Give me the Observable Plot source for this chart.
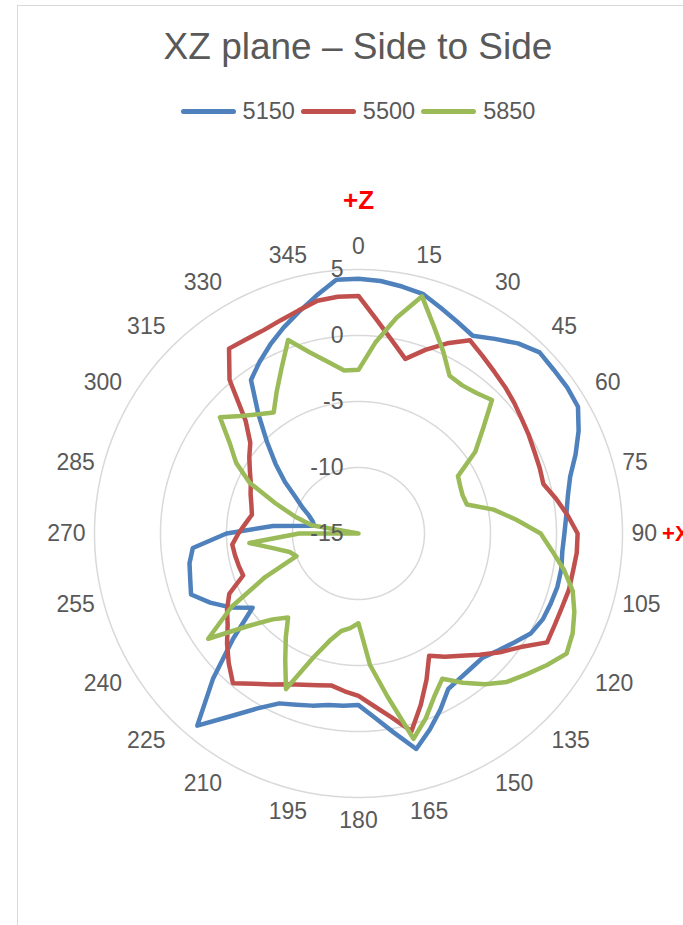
<!DOCTYPE html>
<html><head><meta charset="utf-8">
<script src="https://cdn.jsdelivr.net/npm/d3@7"></script>
<script src="https://cdn.jsdelivr.net/npm/@observablehq/plot@0.6"></script>
<style>
html,body{margin:0;padding:0;background:#fff}
body{width:683px;height:925px;overflow:hidden;position:relative;font-family:"Liberation Sans",Arial,sans-serif}
#frame{position:absolute;left:17px;top:5px;width:720px;height:960px;border-left:1.5px solid #d9d9d9;border-top:1.5px solid #d9d9d9;box-sizing:border-box}
#title{position:absolute;left:0;top:26px;width:716px;text-align:center;font-size:37px;line-height:42px;color:#595959}
#legend{position:absolute;left:0;top:98px;width:716px;display:flex;justify-content:center;align-items:center;font-size:23.5px;line-height:26px;color:#595959}
.item{display:flex;align-items:center;margin:0 3px}
.sw{display:inline-block;width:55px;height:5px;border-radius:3px;margin-right:7px}
#chart{position:absolute;left:0;top:150px}
#chart svg{overflow:visible}
</style></head>
<body>
<div id="frame"></div>
<div id="title">XZ plane – Side to Side</div>
<div id="legend"></div>
<div id="chart"></div>
<script>
// categories (degrees)
const angles = [0,5,10,15,20,25,30,35,40,45,50,55,60,65,70,75,80,85,90,95,100,105,110,115,120,125,130,135,140,145,150,155,160,165,170,175,180,185,190,195,200,205,210,215,220,225,230,235,240,245,250,255,260,265,270,275,280,285,290,295,300,305,310,315,320,325,330,335,340,345,350,355];
// series values (dB)
const s5150 = [4.3,4.2,4.0,3.8,3.2,2.7,2.3,3.0,3.8,4.4,4.3,4.3,4.2,3.4,2.5,1.6,1.1,0.8,0.6,0.5,0.6,0.6,0.5,0.4,0.1,-0.6,-1.2,-1.7,-1.7,-1.6,-1.4,-0.3,0.8,1.9,0.3,-1.0,-2.0,-1.9,-1.8,-1.5,-1.2,-0.8,0.3,1.9,4.0,0.6,-2.6,-5.2,-3.8,-2.6,-1.5,-1.8,-2.0,-2.4,-5.0,-8.5,-11.6,-11.4,-11.0,-10.3,-9.5,-8.2,-6.8,-5.2,-3.2,-0.8,0.0,0.8,1.6,2.4,3.3,4.3];
const s5500 = [3.0,1.2,-0.2,-1.3,-0.2,0.9,1.9,1.4,1.0,0.7,0.4,0.1,-0.1,-0.3,-0.4,-0.5,0.2,0.9,1.6,1.6,1.5,1.5,1.4,1.4,1.5,0.0,-1.0,-2.0,-2.9,-3.6,-4.3,-2.8,-1.2,0.5,-0.9,-1.9,-2.7,-3.0,-3.3,-3.1,-2.8,-2.4,-1.8,-1.1,-0.2,-1.1,-2.0,-2.9,-3.5,-4.2,-5.7,-5.6,-5.5,-5.4,-5.9,-6.4,-6.8,-6.6,-6.3,-6.0,-5.5,-4.9,-4.3,-2.9,0.2,2.1,2.0,2.0,2.2,2.5,2.9,3.0];
const s5850 = [-2.6,-0.5,1.6,3.6,1.7,0.2,-1.2,-1.3,-1.1,-0.7,-2.7,-4.2,-6.3,-6.5,-6.6,-6.5,-4.6,-3.0,-1.2,-0.3,0.8,1.8,2.4,2.9,3.2,2.4,1.6,0.9,-0.1,-1.2,-2.3,-1.4,-0.1,1.1,-2.5,-5.0,-8.2,-7.8,-7.5,-6.6,-5.0,-2.0,-3.9,-5.4,-6.7,-5.8,-4.1,-1.1,-3.9,-7.2,-10.0,-9.6,-8.5,-6.7,-10.5,-15,-11.4,-10.0,-8.3,-5.9,-4.3,-3.1,-1.3,-2.4,-3.2,-3.8,-2.6,-1.2,0.6,-0.8,-1.8,-2.6];
const seriesNames = ["5150","5500","5850"];
const seriesColors = ["#4F81BD","#C0504D","#9BBB59"];
// axis ticks and angle labels
const radialTicks = [-15,-10,-5,0,5];
const angleLabels = [0,15,30,45,60,75,90,105,120,135,150,165,180,195,210,225,240,255,270,285,300,315,330,345];

const rMin = -15, rMax = 5;
const K = 13.2;            // px per dB
const W = 683, H = 775, CX = 358, CY = 383;
const rad = a => a * Math.PI / 180;
const PX = (a, r) => r * Math.sin(rad(a));
const PY = (a, r) => r * Math.cos(rad(a));

const allSeries = [s5150, s5500, s5850];
const rows = allSeries.flatMap((vals, si) => angles.map((a, i) => ({series: seriesNames[si], angle: a, value: vals[i]})));

const ringAngles = d3.range(0, 360, 1);
const rings = radialTicks.filter(t => t > rMin).flatMap(t => ringAngles.map(a => ({t, a, r: t - rMin})));

// legend
const leg = document.getElementById("legend");
seriesNames.forEach((n, i) => {
  const it = document.createElement("div"); it.className = "item";
  const sw = document.createElement("span"); sw.className = "sw"; sw.style.background = seriesColors[i];
  const tx = document.createElement("span"); tx.textContent = n;
  it.appendChild(sw); it.appendChild(tx); leg.appendChild(it);
});

const labelFont = 23;
// category labels: the box's inner edge sits just outside the outer ring
const outer = rMax - rMin;
const R0 = outer + 9 / K;
const boxPush = t => Math.max(0, Math.min(1, (Math.abs(t) - 0.26) / 0.24)) * Math.sign(t);
const labelX = a => {
  const s = Math.sin(rad(a)), w = String(a).length * 0.556 * labelFont;
  return s * R0 + boxPush(s) * (w / 2) / K;
};
const labelY = a => {
  const c = Math.cos(rad(a)), h = 28;
  return c * R0 + boxPush(c) * (h / 2) / K;
};

const chart = Plot.plot({
  width: W, height: H,
  margin: 0,
  style: {fontFamily: '"Liberation Sans", Arial, sans-serif', background: "transparent", overflow: "visible"},
  x: {type: "linear", domain: [-CX / K, (W - CX) / K], range: [0, W], axis: null},
  y: {type: "linear", domain: [-(H - CY) / K, CY / K], range: [H, 0], axis: null},
  color: {domain: seriesNames, range: seriesColors},
  marks: [
    Plot.line(rings, {x: d => PX(d.a, d.r), y: d => PY(d.a, d.r), z: "t", stroke: "#d9d9d9", strokeWidth: 1.5, curve: "linear-closed"}),
    Plot.line(rows, {x: d => PX(d.angle, Math.max(d.value, rMin) - rMin), y: d => PY(d.angle, Math.max(d.value, rMin) - rMin), z: "series", stroke: "series", strokeWidth: 4.5, strokeLinejoin: "round", curve: "linear-closed"}),
    Plot.text(radialTicks, {x: () => 0, y: t => t - rMin, text: t => String(t), textAnchor: "end", dx: -15, fontSize: labelFont, fill: "#595959"}),
    Plot.text(angleLabels, {x: labelX, y: labelY, text: a => String(a), fontSize: labelFont, fill: "#595959"}),
    Plot.text(["+Z"], {x: () => PX(0, 25.2), y: () => PY(0, 25.2), text: d => d, fontSize: 26, fontWeight: "bold", fill: "#FF0000"}),
    Plot.text(["+X"], {x: () => PX(90, 23.0), y: () => PY(90, 23.0), text: d => d, textAnchor: "start", fontSize: 22, fontWeight: "bold", fill: "#FF0000"})
  ]
});
document.getElementById("chart").appendChild(chart);
</script>
</body></html>
